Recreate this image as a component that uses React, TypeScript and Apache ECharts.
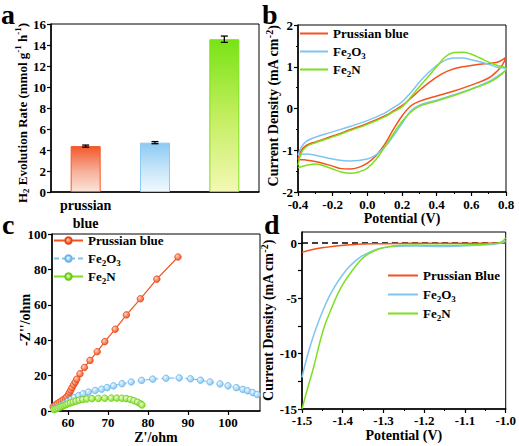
import React, { useEffect, useRef } from 'react';
import * as echarts from 'echarts';

const F = "'Liberation Serif', 'Times New Roman', serif";

// ---------- Panel a: H2 evolution rate ----------
const barCategories = ['prussian blue', 'Fe2O3', 'Fe2N'];
const barValues = [4.37, 4.7, 14.55];
const barErrors = [0.1, 0.1, 0.3];

// ---------- Panel b: CV loops (potential V, current density mA cm-2) ----------
const cvPrussianBlue: number[][] = [
  [-0.4, -1.22], [-0.38, -1.0], [-0.35, -0.88], [-0.3, -0.8], [-0.2, -0.66], [-0.1, -0.51],
  [0.0, -0.36], [0.1, -0.18], [0.15, -0.06], [0.2, 0.07], [0.25, 0.24], [0.3, 0.43],
  [0.35, 0.6], [0.4, 0.75], [0.45, 0.87], [0.5, 0.95], [0.55, 1.0], [0.6, 1.03],
  [0.65, 1.06], [0.7, 1.08], [0.75, 1.11], [0.78, 1.17], [0.8, 1.23],
  [0.78, 1.05], [0.75, 0.9], [0.7, 0.73], [0.6, 0.56], [0.5, 0.42], [0.4, 0.3],
  [0.3, 0.17], [0.25, 0.06], [0.2, -0.18], [0.15, -0.5], [0.1, -0.86], [0.05, -1.13],
  [0.0, -1.31], [-0.05, -1.41], [-0.1, -1.45], [-0.15, -1.44], [-0.2, -1.38],
  [-0.3, -1.27], [-0.36, -1.23], [-0.4, -1.22],
];
const cvFe2O3: number[][] = [
  [-0.4, -1.12], [-0.38, -0.92], [-0.35, -0.78], [-0.3, -0.69], [-0.2, -0.56], [-0.1, -0.43],
  [0.0, -0.29], [0.1, -0.11], [0.15, 0.02], [0.2, 0.16], [0.25, 0.38], [0.3, 0.63],
  [0.35, 0.85], [0.4, 1.03], [0.45, 1.16], [0.5, 1.21], [0.55, 1.21], [0.6, 1.17],
  [0.65, 1.12], [0.7, 1.06], [0.75, 0.99], [0.8, 0.94],
  [0.75, 0.77], [0.7, 0.64], [0.6, 0.47], [0.5, 0.33], [0.4, 0.2], [0.3, 0.08],
  [0.25, -0.06], [0.2, -0.36], [0.15, -0.66], [0.1, -0.93], [0.05, -1.11], [0.0, -1.21],
  [-0.1, -1.26], [-0.2, -1.21], [-0.3, -1.12], [-0.35, -1.09], [-0.4, -1.12],
];
const cvFe2N: number[][] = [
  [-0.4, -1.36], [-0.38, -1.06], [-0.35, -0.91], [-0.3, -0.82], [-0.2, -0.68], [-0.1, -0.53],
  [0.0, -0.38], [0.1, -0.2], [0.15, -0.08], [0.2, 0.04], [0.25, 0.27], [0.3, 0.52],
  [0.35, 0.76], [0.4, 1.0], [0.45, 1.24], [0.5, 1.34], [0.55, 1.35], [0.6, 1.3],
  [0.65, 1.21], [0.7, 1.11], [0.75, 1.03], [0.8, 0.96],
  [0.79, 0.88], [0.75, 0.74], [0.7, 0.62], [0.6, 0.46], [0.5, 0.31], [0.4, 0.18],
  [0.3, 0.05], [0.25, -0.09], [0.2, -0.31], [0.15, -0.61], [0.1, -0.92], [0.05, -1.22],
  [0.0, -1.43], [-0.05, -1.52], [-0.1, -1.55], [-0.15, -1.52], [-0.2, -1.45],
  [-0.3, -1.33], [-0.35, -1.36], [-0.4, -1.42],
];

// ---------- Panel c: Nyquist plots (Z'/ohm, -Z''/ohm) ----------
const eisPrussianBlue: number[][] = [
  [56.3, 2.5], [56.8, 3.3], [57.3, 4.1], [57.8, 4.9], [58.3, 5.6], [58.8, 6.3], [59.3, 7.2],
  [59.7, 8.0], [60.1, 9.3], [60.4, 10.5], [60.7, 11.8], [61.0, 13.2], [61.4, 14.8],
  [61.8, 16.3], [62.2, 18.0], [63.0, 21.0], [64.1, 24.6], [65.5, 28.6], [67.3, 33.5],
  [69.2, 39.2], [71.8, 46.2], [74.6, 54.3], [78.1, 63.4], [82.2, 74.5], [87.5, 87.0],
];
const eisFe2O3: number[][] = [
  [56.7, 1.4], [57.5, 2.3], [58.4, 3.2], [59.2, 4.2], [60.0, 5.4], [60.8, 6.5], [61.6, 7.6],
  [62.7, 8.7], [63.8, 9.7], [65.1, 10.7], [66.8, 11.6], [68.4, 12.3], [69.8, 13.2],
  [71.4, 14.2], [73.5, 15.4], [75.8, 16.4], [78.4, 17.3], [81.2, 18.0], [84.5, 18.5],
  [87.8, 18.7], [90.6, 18.2], [93.1, 17.4], [95.5, 16.4], [98.0, 15.3], [100.0, 14.2],
  [102.1, 13.2], [103.7, 12.2], [104.9, 11.4], [106.2, 10.4], [107.3, 9.3],
];
const eisFe2N: number[][] = [
  [56.5, 0.8], [57.0, 1.2], [57.5, 1.6], [58.0, 2.1], [58.5, 2.6], [59.0, 3.1], [59.5, 3.6],
  [60.0, 4.1], [60.6, 4.6], [61.3, 5.1], [62.0, 5.6], [62.8, 6.1], [63.7, 6.5], [64.7, 6.8],
  [66.0, 7.0], [67.6, 7.1], [69.2, 7.2], [70.8, 7.3], [72.2, 7.3], [73.5, 7.2], [74.6, 7.0],
  [75.6, 6.5], [76.5, 5.8], [77.4, 5.0], [78.2, 4.0], [78.5, 3.4],
];

// ---------- Panel d: LSV (potential V, current density mA cm-2) ----------
const lsvPrussianBlue: number[][] = [
  [-1.5, -0.84], [-1.476, -0.6], [-1.443, -0.39], [-1.411, -0.24], [-1.37, -0.12],
  [-1.322, -0.06], [-1.265, -0.03], [-1.2, -0.02], [-1.1, -0.01], [-1.0, 0.0],
];
const lsvFe2O3: number[][] = [
  [-1.5, -12.15], [-1.488, -10.35], [-1.476, -8.85], [-1.4635, -7.5], [-1.451, -6.3],
  [-1.435, -4.95], [-1.419, -3.9], [-1.403, -3.0], [-1.387, -2.25], [-1.37, -1.65],
  [-1.354, -1.2], [-1.33, -0.75], [-1.305, -0.45], [-1.265, -0.28], [-1.22, -0.27],
  [-1.17, -0.3], [-1.12, -0.28], [-1.07, -0.2], [-1.03, -0.1], [-1.01, 0.0], [-1.0, 0.2],
];
const lsvFe2N: number[][] = [
  [-1.5, -15.0], [-1.486, -13.1], [-1.4716, -11.25], [-1.4554, -8.85], [-1.4433, -7.35],
  [-1.427, -5.85], [-1.411, -4.5], [-1.395, -3.45], [-1.378, -2.55], [-1.362, -1.8],
  [-1.346, -1.2], [-1.322, -0.69], [-1.297, -0.39], [-1.265, -0.22], [-1.22, -0.18],
  [-1.17, -0.2], [-1.12, -0.2], [-1.07, -0.14], [-1.03, -0.05], [-1.01, 0.1], [-1.0, 0.5],
];
const lsvZeroLine: number[][] = [[-1.5, 0], [-1.0, 0]];

// ---------- styles ----------
const ORANGE = '#f4511e';
const BLUE = '#80c4f0';
const GREEN = '#7ddf1f';
const barStops = [
  [{ offset: 0, color: '#f4582a' }, { offset: 0.55, color: '#f7b09a' }, { offset: 1, color: '#fbe4d8' }],
  [{ offset: 0, color: '#8ccaf3' }, { offset: 0.55, color: '#c8e6f9' }, { offset: 1, color: '#f0f9fe' }],
  [{ offset: 0, color: '#79e315' }, { offset: 0.5, color: '#c2ee5e' }, { offset: 1, color: '#f4f8b4' }],
];
const barBorders = ['#f4582a', '#8ccaf3', '#79e315'];

function richSet(fs: number) {
  const base = { fontFamily: F, fontWeight: 'bold' as const, color: '#000', fill: '#000' };
  const small = Math.round(fs * 0.7);
  return {
    m: { ...base, fontSize: fs, lineHeight: fs + 4 },
    s: { ...base, fontSize: small, lineHeight: 9, verticalAlign: 'bottom' },
    u: { ...base, fontSize: small, lineHeight: 9, verticalAlign: 'top' },
  };
}

const FE2O3 = '{m|Fe}{s|2}{m|O}{s|3}';
const FE2N = '{m|Fe}{s|2}{m|N}';
const legendText: Record<string, string> = {
  bPB: '{m|Prussian blue}', bO: FE2O3, bN: FE2N,
  cPB: '{m|Prussian blue}', cO: FE2O3, cN: FE2N,
  dPB: '{m|Prussian Blue}', dO: FE2O3, dN: FE2N,
};
const catText: Record<string, string> = {
  'prussian blue': '{m|prussian}\n{m|blue}',
  Fe2O3: FE2O3,
  Fe2N: FE2N,
};
const TITLE_A = '{m|H}{s|2}{m| Evolution Rate (mmol g}{u|-1}{m| h}{u|-1}{m|)}';
const TITLE_J = '{m|Current Density (mA cm}{u|-2}{m|)}';
const TITLE_C = "{m|-Z''/ohm}";

function axisBase(gridIndex: number, extra: any = {}) {
  const { axisLabel = {}, axisTick = {}, nameTextStyle = {}, ...rest } = extra;
  return {
    gridIndex,
    axisLine: { show: true, onZero: false, lineStyle: { color: '#000', width: 1.5 } },
    axisTick: { show: true, inside: false, length: 4, lineStyle: { color: '#000', width: 1.2 }, ...axisTick },
    axisLabel: { color: '#000', fontFamily: F, fontWeight: 'bold', fontSize: 13, margin: 5, ...axisLabel },
    splitLine: { show: false },
    nameLocation: 'middle',
    nameTextStyle: { fontFamily: F, fontWeight: 'bold', fontSize: 14, color: '#000', rich: richSet(14), ...nameTextStyle },
    ...rest,
  };
}

const gridBox = { show: true, borderColor: '#000', borderWidth: 1, backgroundColor: 'transparent', containLabel: false };

function radial(c: string, light: string) {
  return new echarts.graphic.RadialGradient(0.35, 0.35, 0.7, [
    { offset: 0, color: light },
    { offset: 1, color: c },
  ]);
}

function legendCfg(data: any[], left: number, top: number, itemWidth: number, itemHeight: number, gap: number) {
  return {
    data,
    orient: 'vertical',
    left,
    top,
    itemWidth,
    itemHeight,
    itemGap: gap,
    padding: 0,
    selectedMode: false,
    formatter: (n: string) => legendText[n],
    textStyle: { fontFamily: F, fontWeight: 'bold', fontSize: 13, color: '#000', lineHeight: 17, rich: richSet(13) },
  };
}

export default function App() {
  const ref = useRef<HTMLDivElement>(null);
  useEffect(() => {
    document.body.style.margin = '0';
    const chart = echarts.init(ref.current!, null, { renderer: 'svg' });
    const letter = (t: string, x: number, y: number) => ({
      type: 'text',
      left: x,
      top: y,
      style: { text: t, fontSize: 28, fontWeight: 'bold', fontFamily: F, fill: '#000' },
    });
    const vTitle = (t: string, fs: number, x: number, y: number) => ({
      type: 'text',
      x,
      y,
      rotation: Math.PI / 2,
      style: {
        text: t,
        rich: richSet(fs),
        fontSize: fs,
        fontWeight: 'bold',
        fontFamily: F,
        fill: '#000',
        align: 'center',
        verticalAlign: 'middle',
        textAlign: 'center',
        textVerticalAlign: 'middle',
      },
    });
    const option: any = {
      animation: false,
      backgroundColor: '#fff',
      graphic: [
        letter('a', 1, 0), letter('b', 262, 0), letter('c', 2, 210), letter('d', 264, 210),
        vTitle(TITLE_A, 13, 22, 113),
        vTitle(TITLE_J, 14, 273, 106),
        vTitle(TITLE_C, 14, 25, 320),
      ],
      grid: [
        { ...gridBox, left: 51, top: 24, width: 208, height: 168 },
        { ...gridBox, left: 298, top: 25, width: 208, height: 167 },
        { ...gridBox, left: 52, top: 234, width: 208, height: 177 },
        { ...gridBox, left: 302, top: 232, width: 205, height: 177 },
      ],
      xAxis: [
        axisBase(0, {
          type: 'category',
          data: barCategories,
          axisTick: { show: false },
          axisLabel: { margin: 4, fontSize: 14, formatter: (v: string) => catText[v], rich: richSet(14) },
        }),
        axisBase(1, {
          type: 'value', min: -0.4, max: 0.8, interval: 0.2,
          minorTick: { show: true, splitNumber: 2, length: 2, lineStyle: { color: '#000' } },
          axisLabel: { margin: 6, formatter: (v: number) => v.toFixed(1) },
          name: '{m|Potential (V)}', nameGap: 17,
        }),
        axisBase(2, {
          type: 'value', min: 56, max: 108,
          axisLabel: { customValues: [60, 70, 80, 90, 100] },
          axisTick: { customValues: [60, 70, 80, 90, 100] },
          name: "{m|Z'/ohm}", nameGap: 17,
        }),
        axisBase(3, {
          type: 'value', min: -1.5, max: -1.0, interval: 0.1,
          minorTick: { show: true, splitNumber: 2, length: 2, lineStyle: { color: '#000' } },
          axisLabel: { formatter: (v: number) => v.toFixed(1) },
          name: '{m|Potential (V)}', nameGap: 17,
        }),
      ],
      yAxis: [
        axisBase(0, { type: 'value', min: 0, max: 16, interval: 2 }),
        axisBase(1, {
          type: 'value', min: -2, max: 2, interval: 1,
          minorTick: { show: true, splitNumber: 2, length: 2, lineStyle: { color: '#000' } },
        }),
        axisBase(2, { type: 'value', min: 0, max: 100, interval: 20 }),
        axisBase(3, {
          type: 'value', min: -15, max: 1,
          axisLabel: { customValues: [-15, -10, -5, 0] },
          axisTick: { customValues: [-15, -12.5, -10, -7.5, -5, -2.5, 0] },
          name: TITLE_J, nameGap: 25,
        }),
      ],
      legend: [
        legendCfg([{ name: 'bPB', icon: 'rect' }, { name: 'bO', icon: 'rect' }, { name: 'bN', icon: 'rect' }], 300, 25, 28, 2, 1),
        legendCfg(['cPB', 'cO', 'cN'], 53, 232, 29, 8, 1),
        legendCfg([{ name: 'dPB', icon: 'rect' }, { name: 'dO', icon: 'rect' }, { name: 'dN', icon: 'rect' }], 388, 267, 30, 2, 2),
      ],
      series: [
        {
          type: 'bar', xAxisIndex: 0, yAxisIndex: 0, barWidth: 30,
          data: barValues.map((v, i) => ({
            value: v,
            itemStyle: {
              color: new echarts.graphic.LinearGradient(0, 0, 0, 1, barStops[i]),
              borderColor: barBorders[i],
              borderWidth: 1,
            },
          })),
        },
        {
          type: 'custom', xAxisIndex: 0, yAxisIndex: 0, z: 10,
          data: barValues.map((v, i) => [i, v - barErrors[i], v + barErrors[i]]),
          renderItem: (params: any, api: any) => {
            const i = api.value(0);
            const lo = api.coord([i, api.value(1)]);
            const hi = api.coord([i, api.value(2)]);
            const w = 3.5;
            const st = { stroke: '#000', lineWidth: 1.3 };
            return {
              type: 'group',
              children: [
                { type: 'line', shape: { x1: hi[0], y1: hi[1], x2: lo[0], y2: lo[1] }, style: st },
                { type: 'line', shape: { x1: hi[0] - w, y1: hi[1], x2: hi[0] + w, y2: hi[1] }, style: st },
                { type: 'line', shape: { x1: lo[0] - w, y1: lo[1], x2: lo[0] + w, y2: lo[1] }, style: st },
              ],
            };
          },
        },
        // panel b
        { name: 'bPB', type: 'line', xAxisIndex: 1, yAxisIndex: 1, data: cvPrussianBlue, symbol: 'none', smooth: 0.4, color: ORANGE, lineStyle: { width: 1.5, color: ORANGE } },
        { name: 'bO', type: 'line', xAxisIndex: 1, yAxisIndex: 1, data: cvFe2O3, symbol: 'none', smooth: 0.4, color: BLUE, lineStyle: { width: 1.5, color: BLUE } },
        { name: 'bN', type: 'line', xAxisIndex: 1, yAxisIndex: 1, data: cvFe2N, symbol: 'none', smooth: 0.4, color: GREEN, lineStyle: { width: 1.5, color: GREEN } },
        // panel c
        {
          name: 'cPB', type: 'line', xAxisIndex: 2, yAxisIndex: 2, data: eisPrussianBlue,
          symbol: 'circle', symbolSize: 6.5, color: ORANGE,
          itemStyle: { color: radial(ORANGE, '#fbd2c0'), borderColor: '#e84612', borderWidth: 0.8 },
          lineStyle: { width: 1.2, color: ORANGE },
        },
        {
          name: 'cO', type: 'line', xAxisIndex: 2, yAxisIndex: 2, data: eisFe2O3,
          symbol: 'circle', symbolSize: 6.5, color: BLUE,
          itemStyle: { color: radial(BLUE, '#eef8ff'), borderColor: '#6bb6e8', borderWidth: 0.8 },
          lineStyle: { width: 1.2, color: BLUE, type: [5, 3] },
        },
        {
          name: 'cN', type: 'line', xAxisIndex: 2, yAxisIndex: 2, data: eisFe2N,
          symbol: 'circle', symbolSize: 6.5, color: GREEN,
          itemStyle: { color: radial(GREEN, '#effcd8'), borderColor: '#6acb12', borderWidth: 0.8 },
          lineStyle: { width: 1.2, color: GREEN },
        },
        // panel d
        { type: 'line', xAxisIndex: 3, yAxisIndex: 3, data: lsvZeroLine, symbol: 'none', lineStyle: { width: 1.5, color: '#000', type: [6, 4] }, z: 1 },
        { name: 'dPB', type: 'line', xAxisIndex: 3, yAxisIndex: 3, data: lsvPrussianBlue, symbol: 'none', smooth: 0.4, color: ORANGE, lineStyle: { width: 1.5, color: ORANGE } },
        { name: 'dO', type: 'line', xAxisIndex: 3, yAxisIndex: 3, data: lsvFe2O3, symbol: 'none', smooth: 0.4, color: BLUE, lineStyle: { width: 1.5, color: BLUE } },
        { name: 'dN', type: 'line', xAxisIndex: 3, yAxisIndex: 3, data: lsvFe2N, symbol: 'none', smooth: 0.4, color: GREEN, lineStyle: { width: 1.5, color: GREEN } },
      ],
    };
    chart.setOption(option);
    return () => chart.dispose();
  }, []);
  return <div ref={ref} style={{ position: 'absolute', left: 0, top: 0, width: 519, height: 446 }} />;
}
